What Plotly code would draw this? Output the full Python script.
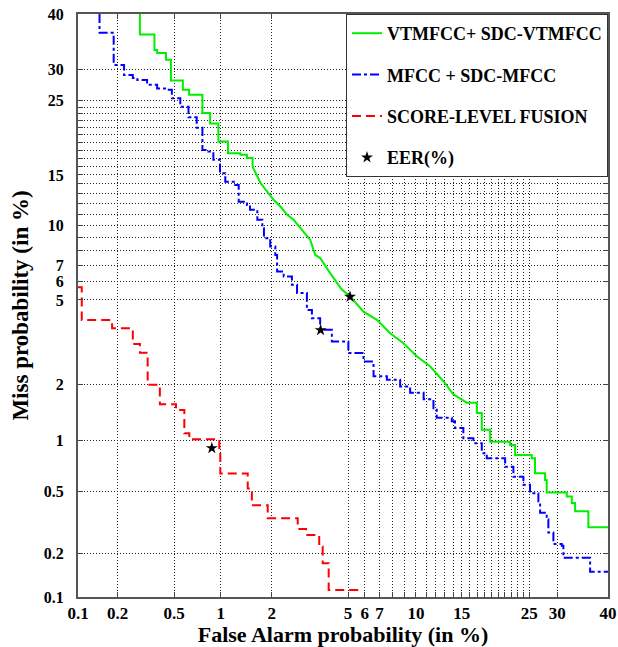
import plotly.graph_objects as go
from statistics import NormalDist

# ---------------- data (percent) ----------------
green_fa = [0.29, 0.29, 0.367, 0.383, 0.441, 0.476, 0.572, 0.629, 0.767, 0.858, 0.967, 1.109, 1.318,
            1.441, 1.555, 1.733, 1.887, 2.049, 2.24, 2.431, 2.642, 2.926, 3.236, 3.43, 3.64, 4.087,
            4.665, 5.119, 5.911, 6.804, 7.788, 8.875, 10.08, 11.42, 12.85, 13.98, 15.64, 16.97,
            17.65, 18.83, 21.85, 22.65, 25.41, 25.98, 27.75, 28.05, 31.77, 32.74, 33.38, 36.0, 40.0]
green_miss = [40.0, 36.2, 33.4, 32.9, 31.7, 28.2, 26.7, 25.9, 23.1, 21.6, 19.1, 17.6, 17.4,
              17.0, 15.95, 14.07, 13.2, 12.35, 11.7, 10.94, 10.48, 9.62, 8.81, 7.70, 7.48, 6.50,
              5.54, 5.18, 4.44, 4.08, 3.54, 3.18, 2.75, 2.45, 2.06, 1.77, 1.60, 1.41,
              1.14, 0.979, 0.938, 0.822, 0.787, 0.643, 0.586, 0.491, 0.464, 0.424, 0.376, 0.297, 0.297]

blue_fa = [0.1465, 0.1465, 0.187, 0.223, 0.258, 0.278, 0.326, 0.383, 0.448, 0.483, 0.55, 0.623,
           0.705, 0.767, 0.837, 0.9, 0.99, 1.067, 1.226, 1.287, 1.441, 1.502, 1.657, 1.772, 1.809,
           1.963, 2.097, 2.146, 2.334, 2.588, 2.757, 3.109, 3.302, 3.64, 4.168, 5.018, 5.911,
           6.574, 7.538, 8.6, 9.468, 10.744, 11.749, 12.102, 13.797, 14.183, 15.205, 16.514,
           17.649, 18.348, 21.07, 22.371, 24.0, 25.12, 26.566, 26.867, 28.055, 28.349, 29.266,
           30.83, 31.13, 36.35, 40.0]
blue_miss = [40.0, 36.5, 30.8, 29.1, 28.6, 28.3, 27.5, 26.9, 26.7, 25.35, 24.06, 22.5,
             21.0, 18.0, 17.8, 16.8, 15.2, 14.24, 13.89, 12.17, 11.85, 11.4, 10.48, 9.75, 8.94,
             8.30, 7.70, 6.60, 6.29, 5.81, 5.36, 4.52, 4.15, 3.67, 3.24, 2.85, 2.59,
             2.19, 2.10, 1.944, 1.805, 1.665, 1.493, 1.326, 1.269, 1.165, 1.024, 0.959,
             0.842, 0.787, 0.702, 0.613, 0.548, 0.487, 0.434, 0.368, 0.334, 0.275, 0.231,
             0.225, 0.187, 0.15, 0.15]

red_fa = [0.1, 0.107, 0.182, 0.258, 0.29, 0.329, 0.40, 0.515, 0.585, 0.631, 0.98, 0.994,
          1.456, 1.54, 1.90, 2.78, 3.08, 3.60, 3.75, 4.02, 5.65]
red_miss = [5.67, 4.07, 3.73, 3.15, 2.86, 1.98, 1.57, 1.46, 1.09, 1.01, 0.86, 0.64,
            0.52, 0.41, 0.34, 0.29, 0.265, 0.222, 0.172, 0.112, 0.112]

eer_fa = [5.11, 3.66, 0.88]
eer_miss = [5.16, 3.66, 0.90]

grid_vals = [0.1, 0.2, 0.5, 1, 2, 5, 6, 7, 8, 9, 10, 11, 12, 13, 14, 15, 16, 17, 18, 19, 20,
             21, 22, 23, 24, 25, 30, 40]
x_labeled = [0.1, 0.2, 0.5, 1, 2, 5, 6, 7, 10, 15, 25, 30, 40]
y_labeled = [0.1, 0.2, 0.5, 1, 2, 5, 6, 7, 10, 15, 25, 30, 40]

# ---------------- probit scale ----------------
nd = NormalDist()


def probit(vals):
    return [nd.inv_cdf(v / 100.0) for v in vals]


def det_path(fa, miss, smooth=None):
    """Staircase (horizontal then vertical) path; inside the `smooth` index range
    the fine steps are drawn as straight segments."""
    xs, ys = [fa[0]], [miss[0]]
    for i in range(len(fa) - 1):
        if smooth is None or not (smooth[0] <= i < smooth[1]):
            xs.append(fa[i + 1]); ys.append(miss[i])
        xs.append(fa[i + 1]); ys.append(miss[i + 1])
    return probit(xs), probit(ys)


def fmt(v):
    return ("%g" % v)


lo, hi = probit([0.1, 40])
serif = "Liberation Serif"

gx, gy = det_path(green_fa, green_miss, smooth=(14, 36))
bx, by = det_path(blue_fa, blue_miss)
rx, ry = det_path(red_fa, red_miss)

fig = go.Figure()
fig.add_trace(go.Scatter(x=gx, y=gy, mode="lines",
                         line=dict(color="#00f000", width=2), name="VTMFCC+ SDC-VTMFCC",
                         legendgroup="g1"))
fig.add_trace(go.Scatter(x=bx, y=by, mode="lines",
                         line=dict(color="#0000ff", width=2, dash="dashdot"), name="MFCC + SDC-MFCC",
                         legendgroup="g2"))
fig.add_trace(go.Scatter(x=rx, y=ry, mode="lines",
                         line=dict(color="#ff0000", width=2, dash="9px,5px"), name="SCORE-LEVEL FUSION",
                         legendgroup="g3"))
fig.add_trace(go.Scatter(x=probit(eer_fa), y=probit(eer_miss), mode="markers",
                         marker=dict(symbol="star", size=9, color="black"), name="EER(%)",
                         legendgroup="g4"))

axis_common = dict(
    showgrid=True, gridcolor="#222222", griddash="1px,2px", gridwidth=1,
    showline=True, linecolor="#555555", linewidth=2, mirror="ticks",
    ticks="inside", ticklen=5, tickcolor="#444444", tickwidth=1,
    zeroline=False, automargin=False,
)
fig.update_xaxes(
    range=[lo, hi], tickvals=probit(grid_vals),
    ticktext=[fmt(v) if v in x_labeled else "" for v in grid_vals],
    tickfont=dict(family=serif, size=17, color="black", weight="bold"),
    title=dict(text="False Alarm probability (in %)",
               font=dict(family=serif, size=22, color="black", weight="bold"), standoff=9),
    **axis_common,
)
fig.update_yaxes(
    range=[lo, hi], tickvals=probit(grid_vals),
    ticktext=[fmt(v) if v in y_labeled else "" for v in grid_vals],
    tickfont=dict(family=serif, size=16, color="black", weight="bold"),
    ticklabelstandoff=9,
    title=dict(text="Miss probability (in %)",
               font=dict(family=serif, size=23, color="black", weight="bold"), standoff=9),
    **axis_common,
)

fig.update_layout(
    width=618, height=647,
    margin=dict(l=78, r=10, t=14, b=50),
    paper_bgcolor="white", plot_bgcolor="white",
    legend=dict(x=1, y=1, xanchor="right", yanchor="top", bgcolor="white",
                bordercolor="#333333", borderwidth=1, tracegroupgap=15,
                font=dict(family=serif, size=18, color="black", weight="bold")),
)

fig.write_html("out.html")
